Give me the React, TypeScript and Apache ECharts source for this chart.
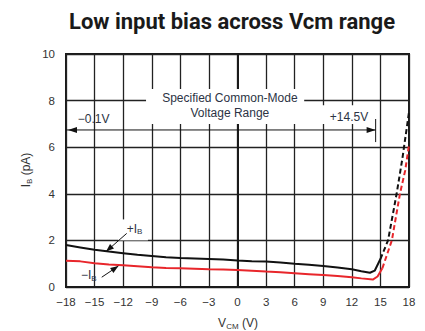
import React, { useEffect, useRef } from "react";
import * as echarts from "echarts";

const X_MIN = -18;
const X_MAX = 18;
const X_STEP = 3;
const Y_MIN = 0;
const Y_MAX = 10;
const Y_STEP = 2;

// +IB (black) measured curve, solid part
const plusIbSolid: [number, number][] = [
  [-18, 1.8], [-16.5, 1.7], [-15, 1.6], [-13.5, 1.52], [-12, 1.45], [-10.5, 1.38],
  [-9, 1.33], [-7.5, 1.28], [-6, 1.24], [-4.5, 1.22], [-3, 1.2], [-1.5, 1.18],
  [0, 1.14], [1.5, 1.11], [3, 1.09], [4.5, 1.05], [6, 1.0], [7.5, 0.96],
  [9, 0.9], [10.5, 0.84], [12, 0.76], [13, 0.68], [13.9, 0.61], [14.4, 0.7], [15, 1.2],
];
// +IB dashed part
const plusIbDashed: [number, number][] = [
  [15, 1.2], [15.8, 2.0], [16.7, 4.0], [17.3, 5.5], [18, 7.5],
];
// -IB (red) measured curve, solid part
const minusIbSolid: [number, number][] = [
  [-18, 1.13], [-16.5, 1.1], [-15, 1.02], [-13.5, 0.97], [-12, 0.93], [-10.5, 0.89],
  [-9, 0.85], [-7.5, 0.82], [-6, 0.8], [-4.5, 0.78], [-3, 0.76], [-1.5, 0.75],
  [0, 0.73], [1.5, 0.7], [3, 0.66], [4.5, 0.63], [6, 0.59], [7.5, 0.55],
  [9, 0.51], [10.5, 0.47], [12, 0.42], [13, 0.37], [14.2, 0.32], [14.7, 0.45], [15.2, 0.8],
];
// -IB dashed part
const minusIbDashed: [number, number][] = [
  [15.2, 0.8], [16.2, 2.0], [17.05, 4.0], [17.6, 5.0], [18, 6.1],
];

// annotation anchors (data coordinates)
const rangeLeft = -18;
const rangeRight = 14.5;
const rangeY = 6.74;

const TITLE = "Low input bias across Vcm range";
const FONT = "'Liberation Sans', Arial, sans-serif";
const NOTE = "#2c3344";

export default function App() {
  const ref = useRef<HTMLDivElement>(null);
  useEffect(() => {
    document.body.style.margin = "0";
    const chart = echarts.init(ref.current!, null, { renderer: "svg" });
    chart.setOption({
      animation: false,
      backgroundColor: "#ffffff",
      grid: {
        left: 66, right: 16, top: 54, bottom: 44,
        show: true, borderColor: "#1a1a1a", borderWidth: 2,
      },
      xAxis: {
        type: "value", min: X_MIN, max: X_MAX, interval: X_STEP,
        axisLine: { show: true, lineStyle: { color: "#1a1a1a", width: 2 } },
        axisTick: { show: false },
        splitLine: { show: true, lineStyle: { color: "#222", width: 1.3 } },
        axisLabel: {
          margin: 9, color: "#333", fontSize: 11.5, fontFamily: FONT,
          formatter: (v: number) => String(v).replace("-", "\u2212"),
        },
      },
      yAxis: {
        type: "value", min: Y_MIN, max: Y_MAX, interval: Y_STEP,
        axisLine: { show: true, lineStyle: { color: "#1a1a1a", width: 2 } },
        axisTick: { show: false },
        splitLine: { show: true, lineStyle: { color: "#222", width: 1.3 } },
        axisLabel: { margin: 11, color: "#333", fontSize: 11.5, fontFamily: FONT },
      },
      series: [
        { type: "line", data: plusIbSolid, symbol: "none", lineStyle: { color: "#111", width: 2 }, z: 5 },
        { type: "line", data: plusIbDashed, symbol: "none", lineStyle: { color: "#111", width: 2, type: [5, 3] }, z: 5 },
        { type: "line", data: minusIbSolid, symbol: "none", lineStyle: { color: "#e8262b", width: 2 }, z: 4 },
        { type: "line", data: minusIbDashed, symbol: "none", lineStyle: { color: "#e8262b", width: 2, type: [5, 3] }, z: 4 },
      ],
    });

    const p = (x: number, y: number) => chart.convertToPixel({ gridIndex: 0 }, [x, y]) as number[];
    const arrowHead = (from: number[], tip: number[], len = 9, w = 3, color = "#111") => {
      const dx = tip[0] - from[0];
      const dy = tip[1] - from[1];
      const d = Math.hypot(dx, dy) || 1;
      const ux = dx / d, uy = dy / d;
      const bx = tip[0] - ux * len, by = tip[1] - uy * len;
      return {
        type: "polygon",
        shape: { points: [[tip[0], tip[1]], [bx - uy * w, by + ux * w], [bx + uy * w, by - ux * w]] },
        style: { fill: color },
        z: 20,
      };
    };
    const seg = (a: number[], b: number[], width = 1) => ({
      type: "line",
      shape: { x1: a[0], y1: a[1], x2: b[0], y2: b[1] },
      style: { stroke: "#111", lineWidth: width },
      z: 20,
    });
    const box = (tl: number[], br: number[]) => ({
      type: "rect",
      shape: { x: tl[0], y: tl[1], width: br[0] - tl[0], height: br[1] - tl[1] },
      style: { fill: "#fff" },
      z: 10,
    });

    const L = p(rangeLeft, rangeY);
    const R = p(rangeRight, rangeY);
    const tickTop = p(rangeRight, 7.21);
    const tickBot = p(rangeRight, 6.22);
    const textC1 = p(-0.8, 8.1);
    const textC2 = p(-0.8, 7.45);
    const leftLbl = p(-15.1, 7.2);
    const rightLbl = p(11.7, 7.3);

    const plusFrom = p(-11.63, 2.3);
    const plusTo = p(-13.8, 1.52);
    const plusLbl = p(-10.8, 2.5);
    const minusFrom = p(-14.25, 0.42);
    const minusTo = p(-12.5, 0.9);
    const minusLbl = p(-15.6, 0.5);

    const txt = (pos: number[], text: string) => ({
      type: "text",
      x: pos[0], y: pos[1],
      style: {
        text, fill: NOTE, fontSize: 12, fontFamily: FONT,
        align: "center", verticalAlign: "middle",
      },
      z: 21,
    });
    const subRich = (c: string) => ({
      b: { fontSize: 12, fontFamily: FONT, fill: c, color: c },
      s: { fontSize: 8, fontFamily: FONT, fill: c, color: c, padding: [6, 0, 0, 0] },
    });

    chart.setOption({
      graphic: [
        {
          type: "text", x: 232, y: 21, z: 30,
          style: {
            text: TITLE, fill: "#1a1a1a", fontFamily: "Roboto", fontWeight: "bold", fontSize: 22,
            align: "center", verticalAlign: "middle",
          },
        },
        box(p(-9.6, 8.5), p(7.0, 7.0)),
        box(p(8.4, 7.8), p(13.0, 7.0)),
        box(p(-12.5, 2.9), p(-9.4, 2.0)),
        txt(textC1, "Specified Common-Mode"),
        txt(textC2, "Voltage Range"),
        txt(leftLbl, "\u22120.1V"),
        txt(rightLbl, "+14.5V"),
        seg(L, R),
        arrowHead(R, [L[0] + 2, L[1]]),
        arrowHead(L, R),
        seg(tickTop, tickBot),
        seg(plusFrom, plusTo),
        arrowHead(plusFrom, plusTo, 8, 3),
        seg(minusFrom, minusTo),
        arrowHead(minusFrom, minusTo, 8, 3),
        {
          type: "text", x: plusLbl[0], y: plusLbl[1], z: 21,
          style: { text: "{b|+I}{s|B}", rich: subRich(NOTE), align: "center", verticalAlign: "middle" },
        },
        {
          type: "text", x: minusLbl[0], y: minusLbl[1], z: 21,
          style: { text: "{b|\u2212I}{s|B}", rich: subRich(NOTE), align: "center", verticalAlign: "middle" },
        },
        {
          type: "text", x: 26, y: 170, rotation: Math.PI / 2, z: 21,
          style: { text: "{b|I}{s|B}{b| (pA)}", rich: subRich("#333"), align: "center", verticalAlign: "middle" },
        },
        {
          type: "text", x: 238, y: 323, z: 21,
          style: { text: "{b|V}{s|CM}{b| (V)}", rich: subRich("#333"), align: "center", verticalAlign: "middle" },
        },
      ],
    });
    return () => chart.dispose();
  }, []);
  return <div ref={ref} style={{ width: 425, height: 331 }} />;
}
